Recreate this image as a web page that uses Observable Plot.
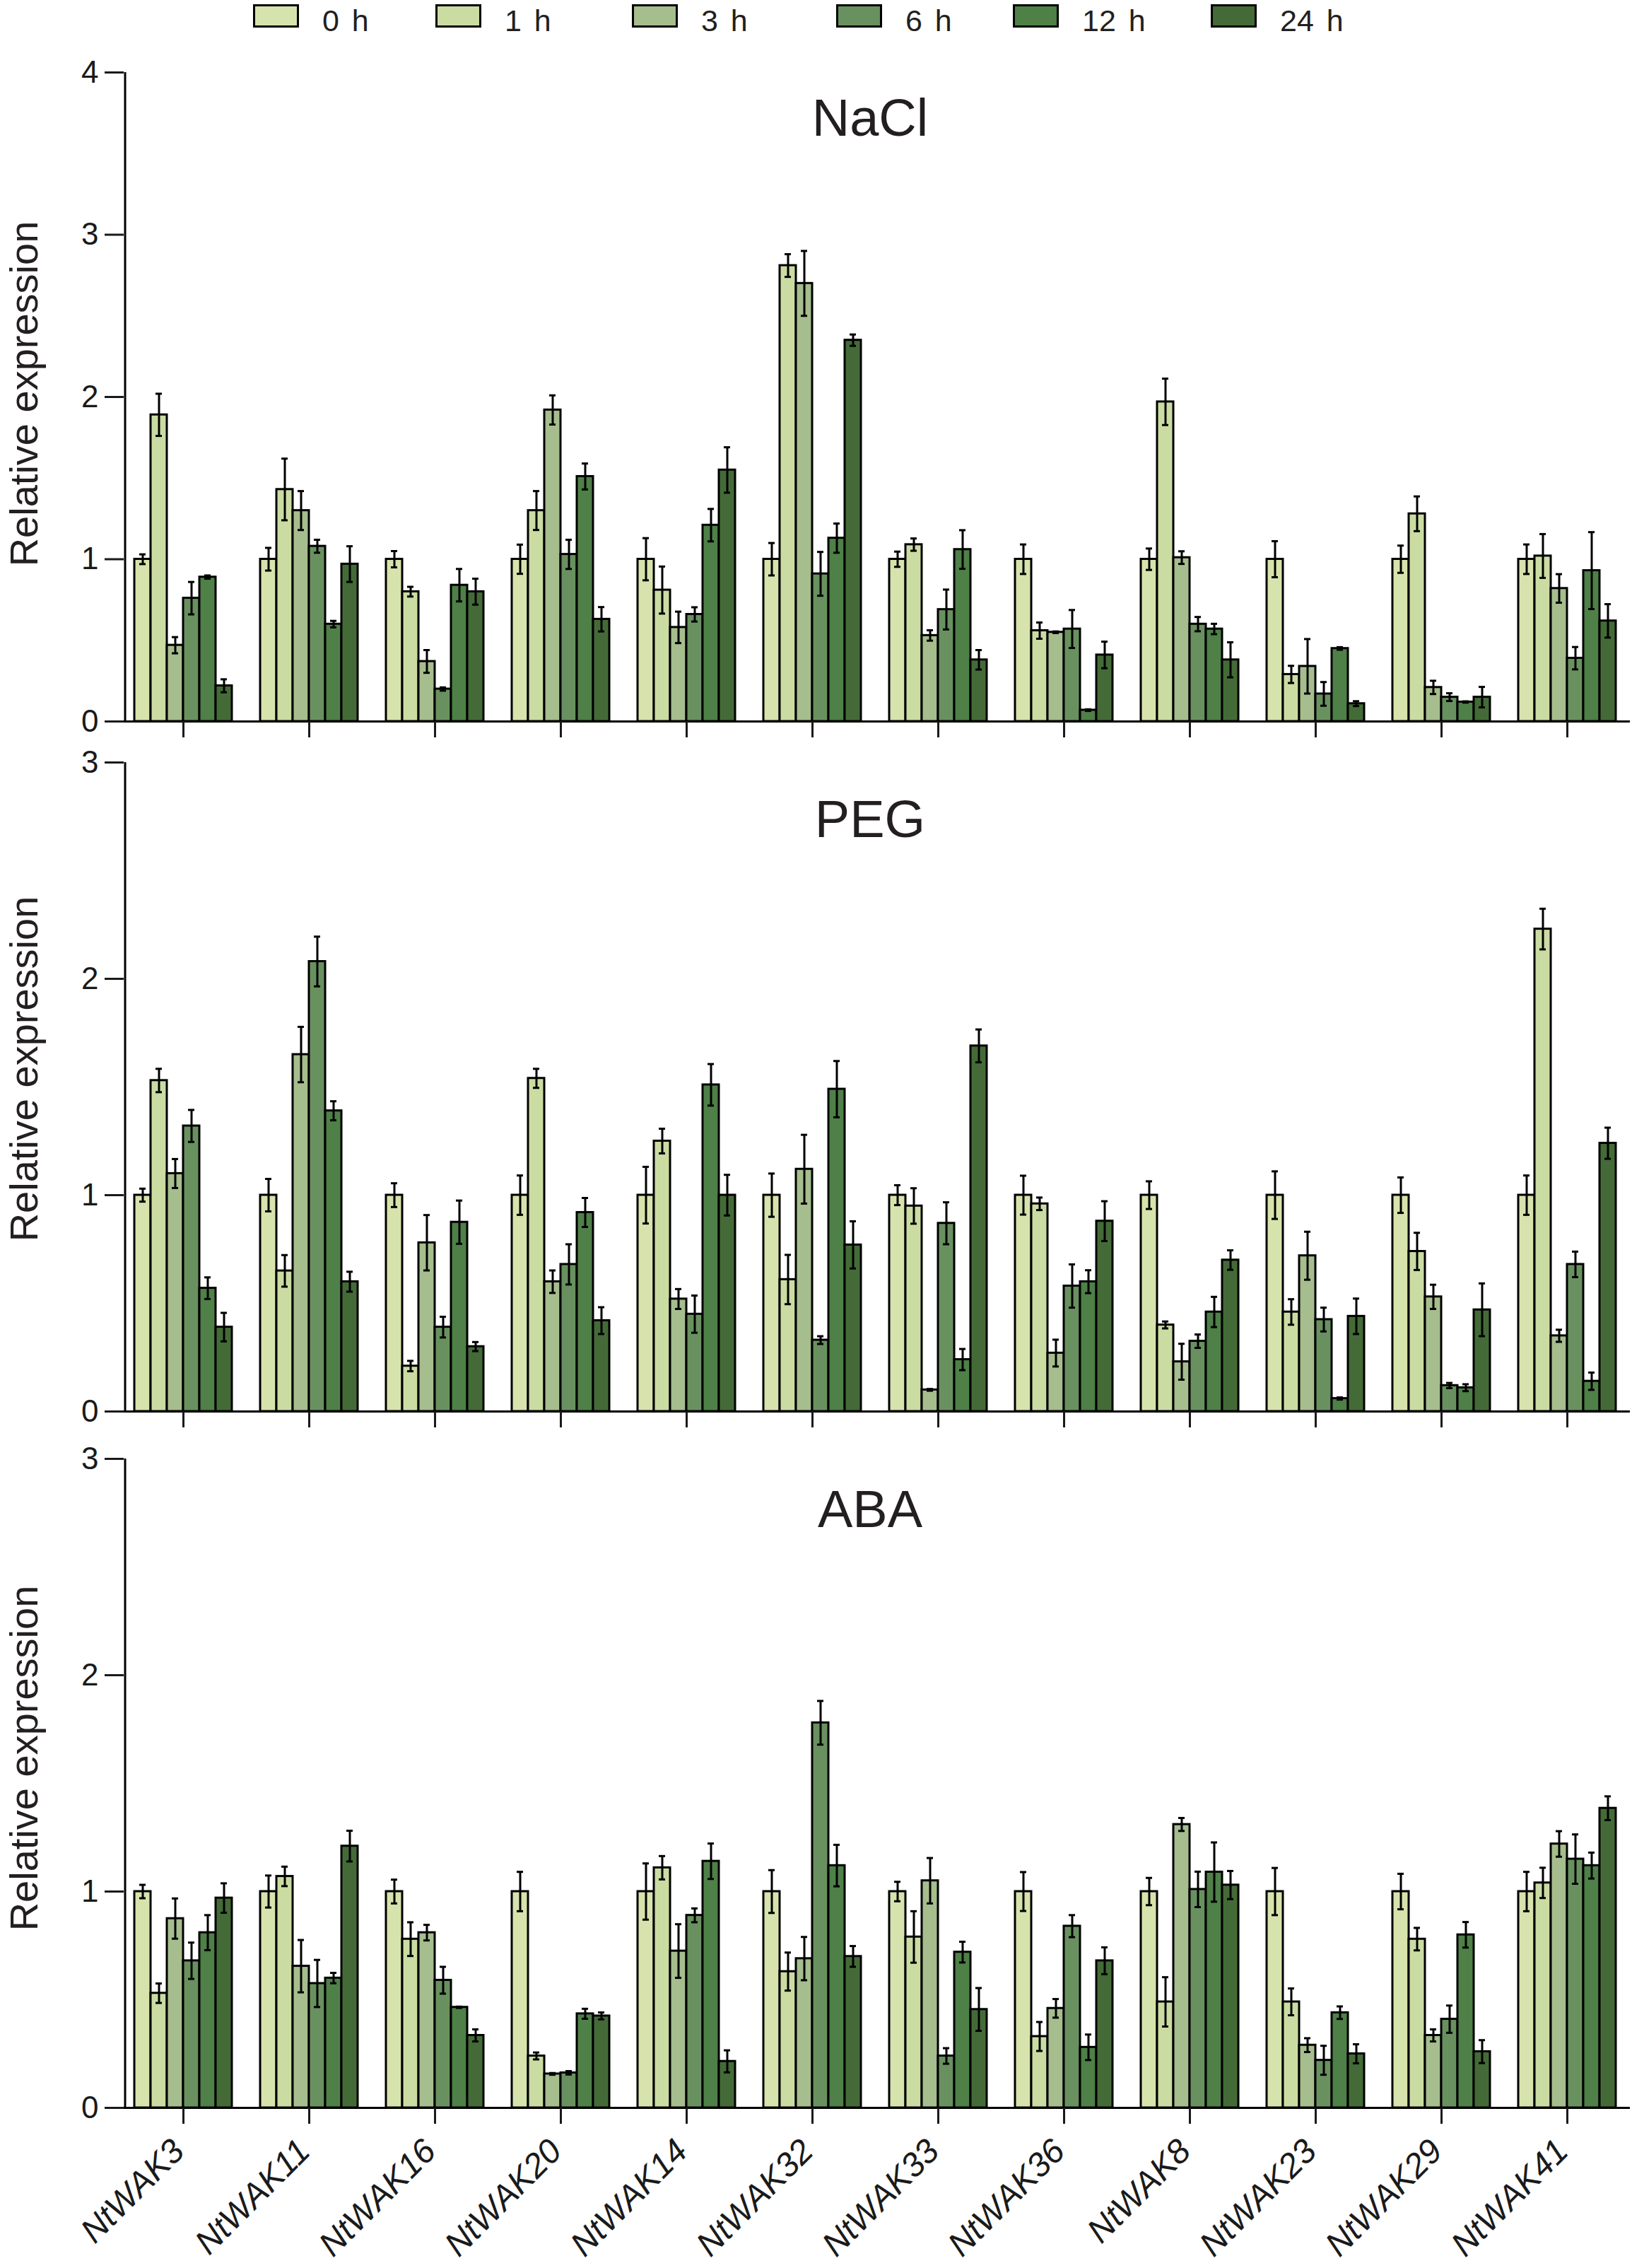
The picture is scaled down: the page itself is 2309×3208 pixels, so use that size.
<!DOCTYPE html>
<html>
<head>
<meta charset="utf-8">
<script src="https://cdn.jsdelivr.net/npm/d3@7"></script>
<script src="https://cdn.jsdelivr.net/npm/@observablehq/plot@0.6"></script>
<style>
  html, body { margin: 0; padding: 0; background: #fff; }
  body { font-family: "Liberation Sans", Arial, sans-serif; color: #231f20; }
  #root { position: relative; width: 2309px; height: 3208px; overflow: hidden; }
  #legend { position: relative; height: 50px; }
  .sw { position: absolute; top: 6px; width: 59px; height: 27px; border: 3px solid #000; }
  .lt { position: absolute; top: 4px; font-size: 43px; line-height: 50px; white-space: pre; word-spacing: 6px; }
  .title { position: absolute; font-size: 74px; line-height: 86px; white-space: nowrap; transform: translateX(-50%); }
  .ylab { position: absolute; font-size: 56px; line-height: 66px; white-space: nowrap;
          transform: translate(-50%, -50%) rotate(-90deg); transform-origin: center center; }
  svg { display: block; }
</style>
</head>
<body>
<div id="root">
  <div id="legend"></div>
  <div id="panels"></div>
</div>
<script>
// ---------- data ----------
const genes = ["NtWAK3","NtWAK11","NtWAK16","NtWAK20","NtWAK14","NtWAK32",
               "NtWAK33","NtWAK36","NtWAK8","NtWAK23","NtWAK29","NtWAK41"];
const times = ["0 h","1 h","3 h","6 h","12 h","24 h"];
const colors = ["#d7e3ac","#cbdca3","#a6bd8e","#699160","#4e8048","#446b37"];
const treatments = ["NaCl","PEG","ABA"];
const yTicksNaCl = [0,1,2,3,4];
const yTicksPEG = [0,1,2,3];
const yTicksABA = [0,1,2,3];

// rows = genes, columns = times (0, 1, 3, 6, 12, 24 h)
const naclMean = [
  [1.00,1.89,0.47,0.76,0.89,0.22],
  [1.00,1.43,1.30,1.08,0.60,0.97],
  [1.00,0.80,0.37,0.20,0.84,0.80],
  [1.00,1.30,1.92,1.03,1.51,0.63],
  [1.00,0.81,0.58,0.66,1.21,1.55],
  [1.00,2.81,2.70,0.91,1.13,2.35],
  [1.00,1.09,0.53,0.69,1.06,0.38],
  [1.00,0.56,0.55,0.57,0.07,0.41],
  [1.00,1.97,1.01,0.60,0.57,0.38],
  [1.00,0.29,0.34,0.17,0.45,0.11],
  [1.00,1.28,0.21,0.15,0.12,0.15],
  [1.00,1.02,0.82,0.39,0.93,0.62]
];
const naclErr = [
  [0.03,0.13,0.05,0.10,0.01,0.04],
  [0.07,0.19,0.12,0.04,0.02,0.11],
  [0.05,0.03,0.07,0.01,0.10,0.08],
  [0.09,0.12,0.09,0.09,0.08,0.075],
  [0.13,0.145,0.097,0.044,0.10,0.14],
  [0.10,0.07,0.20,0.135,0.09,0.035],
  [0.047,0.038,0.032,0.123,0.119,0.06],
  [0.091,0.05,0.005,0.117,0.005,0.082],
  [0.066,0.143,0.039,0.044,0.032,0.108],
  [0.111,0.053,0.168,0.073,0.008,0.015],
  [0.084,0.107,0.041,0.024,0.004,0.063],
  [0.091,0.135,0.088,0.069,0.237,0.103]
];
const pegMean = [
  [1.00,1.53,1.10,1.32,0.57,0.39],
  [1.00,0.65,1.65,2.08,1.39,0.60],
  [1.00,0.21,0.78,0.39,0.875,0.30],
  [1.00,1.54,0.60,0.68,0.92,0.42],
  [1.00,1.25,0.52,0.45,1.51,1.00],
  [1.00,0.61,1.12,0.33,1.49,0.77],
  [1.00,0.95,0.10,0.87,0.24,1.69],
  [1.00,0.96,0.27,0.58,0.60,0.88],
  [1.00,0.40,0.23,0.325,0.46,0.70],
  [1.00,0.46,0.72,0.425,0.06,0.44],
  [1.00,0.74,0.53,0.12,0.11,0.47],
  [1.00,2.23,0.35,0.68,0.14,1.24]
];
const pegErr = [
  [0.03,0.054,0.067,0.074,0.05,0.066],
  [0.075,0.073,0.128,0.115,0.044,0.046],
  [0.055,0.024,0.128,0.048,0.10,0.021],
  [0.091,0.044,0.052,0.093,0.067,0.062],
  [0.131,0.057,0.046,0.086,0.096,0.094],
  [0.10,0.114,0.159,0.018,0.13,0.109],
  [0.046,0.082,0.004,0.097,0.049,0.076],
  [0.09,0.029,0.062,0.10,0.053,0.092],
  [0.064,0.016,0.083,0.031,0.07,0.045],
  [0.11,0.059,0.111,0.055,0.005,0.082],
  [0.082,0.086,0.056,0.012,0.016,0.122],
  [0.091,0.094,0.028,0.059,0.04,0.072]
];
const abaMean = [
  [1.00,0.53,0.875,0.68,0.81,0.97],
  [1.00,1.07,0.655,0.575,0.60,1.21],
  [1.00,0.78,0.81,0.59,0.465,0.335],
  [1.00,0.24,0.157,0.162,0.435,0.425],
  [1.00,1.11,0.725,0.89,1.14,0.215],
  [1.00,0.63,0.69,1.78,1.12,0.70],
  [1.00,0.79,1.05,0.24,0.72,0.455],
  [1.00,0.33,0.46,0.84,0.28,0.68],
  [1.00,0.49,1.31,1.01,1.09,1.03],
  [1.00,0.49,0.29,0.22,0.44,0.25],
  [1.00,0.78,0.335,0.41,0.80,0.26],
  [1.00,1.04,1.22,1.15,1.12,1.385]
];
const abaErr = [
  [0.031,0.045,0.093,0.084,0.081,0.068],
  [0.074,0.045,0.121,0.109,0.024,0.071],
  [0.055,0.078,0.036,0.062,0.003,0.028],
  [0.091,0.016,0.004,0.008,0.023,0.016],
  [0.13,0.054,0.124,0.032,0.082,0.051],
  [0.099,0.088,0.10,0.101,0.096,0.048],
  [0.045,0.119,0.105,0.036,0.048,0.099],
  [0.09,0.067,0.043,0.051,0.059,0.062],
  [0.063,0.114,0.03,0.082,0.137,0.065],
  [0.109,0.062,0.032,0.067,0.029,0.044],
  [0.082,0.052,0.028,0.063,0.059,0.053],
  [0.091,0.07,0.059,0.114,0.06,0.055]
];

// ---------- layout ----------
const FONT = '"Liberation Sans", Arial, Helvetica, sans-serif';
const INK = "#1a1a1a";
const legendLeft = [358, 616, 894, 1183, 1433, 1713];

const root = document.getElementById("root");
const legend = document.getElementById("legend");
times.forEach((t, k) => {
  const sw = document.createElement("div");
  sw.className = "sw";
  sw.style.left = legendLeft[k] + "px";
  sw.style.background = colors[k];
  legend.appendChild(sw);
  const lt = document.createElement("div");
  lt.className = "lt";
  lt.style.left = (legendLeft[k] + 98) + "px";
  lt.textContent = t;
  legend.appendChild(lt);
});

function rows(means, errs) {
  return genes.flatMap((g, i) => times.map((t, k) => ({gene: g, time: t, value: means[i][k], err: errs[i][k]})));
}

function panel({means, errs, ticks, height, marginTop, marginBottom, labels}) {
  const data = rows(means, errs);
  const ymax = d3.max(ticks);
  const marks = [
    Plot.barY(data, {fx: "gene", x: "time", y: "value", fill: "time", stroke: "#000", strokeWidth: 3}),
    Plot.ruleX(data, {fx: "gene", x: "time", y1: d => d.value - d.err, y2: d => d.value + d.err,
                      stroke: "#000", strokeWidth: 3}),
    Plot.tickY(data, {fx: "gene", x: "time", y: d => d.value + d.err, insetLeft: 7, insetRight: 7,
                      stroke: "#000", strokeWidth: 3}),
    Plot.tickY(data, {fx: "gene", x: "time", y: d => d.value - d.err, insetLeft: 7, insetRight: 7,
                      stroke: "#000", strokeWidth: 3}),
    Plot.ruleY([0], {stroke: "#000", strokeWidth: 3, insetLeft: -18, insetRight: -18}),
    Plot.ruleX([{gene: genes[0], time: times[0]}], {fx: "gene", x: "time", y1: 0, y2: ymax,
                stroke: "#000", strokeWidth: 3, dx: -25}),
    Plot.axisY({ticks, tickSize: 27, tickPadding: 9, strokeWidth: 3, dx: -13, label: null,
                tickFormat: d3.format("d")}),
    Plot.axisFx({anchor: "bottom", tickSize: 23, strokeWidth: 3, tickFormat: () => "", label: null})
  ];
  if (labels) {
    marks.push(Plot.text(genes, {fx: d => d, text: d => d, frameAnchor: "bottom", rotate: -45,
                                 textAnchor: "end", dx: 4, dy: 64, fontSize: 48, fontStyle: "italic",
                                 fill: INK}));
  }
  return Plot.plot({
    width: 2309,
    height,
    marginTop,
    marginBottom,
    marginLeft: 167,
    marginRight: 0,
    style: {fontFamily: FONT, fontSize: "44px", color: INK, background: "white", overflow: "visible"},
    fx: {domain: genes, paddingInner: 0.2, paddingOuter: 0.1, axis: null, label: null},
    x: {domain: times, padding: 0, axis: null},
    y: {domain: [0, ymax], axis: null},
    color: {domain: times, range: colors},
    marks
  });
}

const panels = document.getElementById("panels");
panels.appendChild(panel({means: naclMean, errs: naclErr, ticks: yTicksNaCl, height: 1000, marginTop: 52, marginBottom: 30}));
panels.appendChild(panel({means: pegMean, errs: pegErr, ticks: yTicksPEG, height: 985, marginTop: 28, marginBottom: 39}));
panels.appendChild(panel({means: abaMean, errs: abaErr, ticks: yTicksABA, height: 1173, marginTop: 28, marginBottom: 227, labels: true}));

// panel titles and y-axis titles
const titleTop = [124, 1116, 2092];
const ylabCenter = [557, 1512, 2487];
treatments.forEach((name, i) => {
  const t = document.createElement("div");
  t.className = "title";
  t.style.left = "1231px";
  t.style.top = titleTop[i] + "px";
  t.textContent = name;
  root.appendChild(t);
  const y = document.createElement("div");
  y.className = "ylab";
  y.style.left = "34px";
  y.style.top = ylabCenter[i] + "px";
  y.textContent = "Relative expression";
  root.appendChild(y);
});
</script>
</body>
</html>
